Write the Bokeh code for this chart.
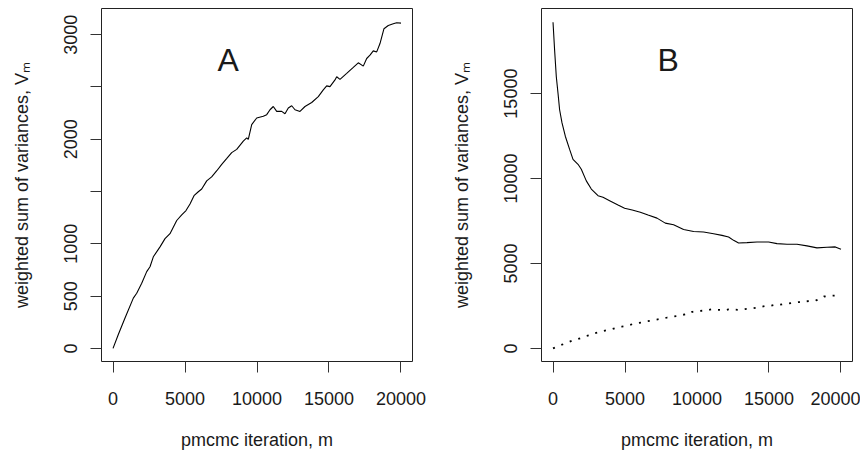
from bokeh.plotting import figure
from bokeh.models import Range1d, FixedTicker, Label
from bokeh.layouts import row
from bokeh.embed import file_html
from bokeh.resources import INLINE

# ---- data ----
iter_a = [0, 368, 833, 1410, 1646, 1993, 2340, 2569, 2799, 3264, 3611, 3958, 4424, 4771, 5069,
          5347, 5625, 5924, 6160, 6507, 6850, 7209, 7550, 7904, 8243, 8590, 9049, 9285, 9396, 9632,
          9979, 10438, 10674, 10903, 11132, 11368, 11715, 11944, 12174, 12410, 12639, 12986, 13333,
          13799, 14257, 14604, 14840, 15069, 15417, 15535, 15764, 16229, 16688, 17035, 17382, 17618,
          17847, 18076, 18313, 18542, 18819, 19118, 19465, 19701, 20000]
v_a = [0, 133, 291, 481, 528, 623, 734, 781, 876, 971, 1050, 1097, 1223, 1277, 1318,
       1381, 1460, 1498, 1524, 1602, 1640, 1699, 1760, 1817, 1872, 1903, 1982, 2014, 1998, 2140,
       2203, 2219, 2235, 2282, 2313, 2266, 2266, 2244, 2298, 2320, 2282, 2266, 2313,
       2351, 2408, 2472, 2510, 2503, 2567, 2598, 2573, 2630, 2687, 2731, 2699, 2772,
       2804, 2845, 2835, 2915, 3057, 3088, 3104, 3114, 3110]

iter_b = [0, 111, 229, 347, 458, 625, 854, 1153, 1389, 1736, 1965, 2313, 2660, 3125, 3472,
          3931, 4514, 4972, 5500, 6063, 6600, 7222, 7799, 8375, 9069, 9764, 10458, 11153, 11736,
          12194, 12542, 12889, 13472, 14167, 14972, 15556, 16250, 16944, 17639, 18333, 19028,
          19604, 20000]
v_b = [19203, 17551, 15993, 15024, 14049, 13272, 12491, 11714, 11131, 10839, 10547, 9864, 9380,
       8989, 8895, 8697, 8446, 8253, 8150, 8019, 7850, 7669, 7377, 7278, 7004, 6887, 6852, 6753,
       6654, 6560, 6362, 6210, 6228, 6269, 6269, 6169, 6129, 6129, 6035, 5918, 5953, 5977, 5837]

x_ticks = [0, 5000, 10000, 15000, 20000]
y_ticks_a = [0, 500, 1000, 1500, 2000, 2500, 3000]
y_hidden_a = [1500, 2500]
y_ticks_b = [0, 5000, 10000, 15000]

x_label = "pmcmc iteration, m"
y_label = "weighted sum of variances, V\u2098"

FONT = "Liberation Sans"
TXT = "#1a1a1a"


def style(p, yticks, hidden=()):
    p.xaxis.ticker = FixedTicker(ticks=x_ticks)
    p.yaxis.ticker = FixedTicker(ticks=yticks)
    p.yaxis.major_label_overrides = {t: "" for t in hidden}
    for ax in (p.xaxis[0], p.yaxis[0]):
        ax.axis_line_color = None
        ax.major_tick_in = 0
        ax.major_tick_out = 11
        ax.major_tick_line_color = "#333333"
        ax.minor_tick_line_color = None
        ax.major_label_text_font = FONT
        ax.major_label_text_font_size = "18px"
        ax.major_label_text_color = TXT
        ax.axis_label_text_font = FONT
        ax.axis_label_text_font_size = "18px"
        ax.axis_label_text_font_style = "normal"
        ax.axis_label_text_color = TXT
    p.xaxis.axis_label = x_label
    p.yaxis.axis_label = y_label
    p.yaxis.major_label_orientation = "vertical"
    p.xaxis.major_label_standoff = 19
    p.xaxis.axis_label_standoff = 22
    p.yaxis.major_label_standoff = 13
    p.yaxis.axis_label_standoff = 30
    p.xgrid.grid_line_color = None
    p.ygrid.grid_line_color = None
    p.outline_line_color = "#222222"
    p.outline_line_width = 1
    p.background_fill_color = "white"
    p.border_fill_color = "white"


TOP = 8
FRAME_H = 356
BOTTOM = 88
H = TOP + FRAME_H + BOTTOM

pA = figure(width=434, height=H, output_backend="svg", toolbar_location=None,
            x_range=Range1d(-800, 20800), y_range=Range1d(-125, 3250),
            min_border_left=101, min_border_right=22, min_border_top=TOP, min_border_bottom=BOTTOM)
style(pA, y_ticks_a, y_hidden_a)
pA.line(iter_a, v_a, line_color="black", line_width=1.1)
pA.add_layout(Label(x=8000, y=2756, text="A", text_font=FONT, text_font_size="32px",
                    text_align="center", text_baseline="alphabetic", text_color=TXT))

pB = figure(width=426, height=H, output_backend="svg", toolbar_location=None,
            x_range=Range1d(-800, 20800), y_range=Range1d(-770, 20010),
            min_border_left=107, min_border_right=8, min_border_top=TOP, min_border_bottom=BOTTOM)
style(pB, y_ticks_b)
pB.line(iter_b, v_b, line_color="black", line_width=1.1)
pB.line(iter_a, v_a, line_color="black", line_width=1.8, line_dash="2 7")
pB.add_layout(Label(x=8000, y=16967, text="B", text_font=FONT, text_font_size="32px",
                    text_align="center", text_baseline="alphabetic", text_color=TXT))

layout = row(pA, pB)
open("out.html", "w").write(file_html(layout, INLINE))
